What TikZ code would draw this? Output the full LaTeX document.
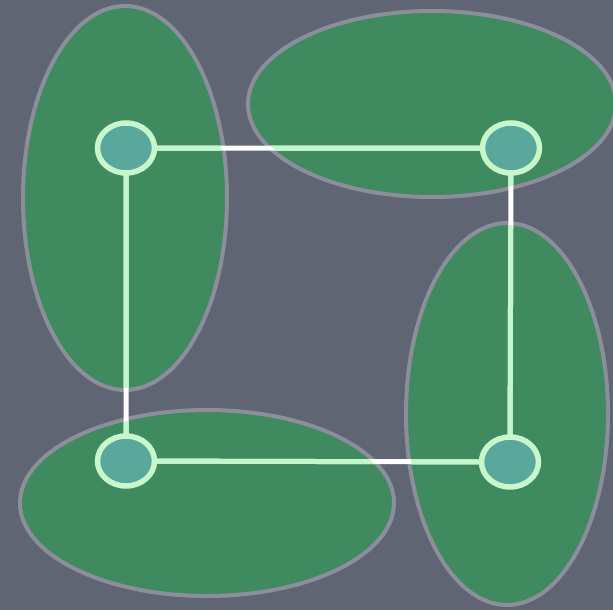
\documentclass[tikz,border=0pt]{standalone}
\usetikzlibrary{shapes.geometric}
\begin{document}
\begin{tikzpicture}[x=1pt,y=-1pt,
  blob/.style={fill=blobc,draw=blobedge,line width=4pt},
  vert/.style={shape=ellipse,fill=vfill,draw=vedge,line width=5.5pt,minimum width=57pt,minimum height=50pt,inner sep=0pt},
  link/.style={line width=5pt}]
\definecolor{bgc}{HTML}{5F6573}
\definecolor{blobc}{HTML}{3F8A5E}
\definecolor{blobedge}{HTML}{8C8E9B}
\definecolor{vfill}{HTML}{5AA79C}
\definecolor{vedge}{HTML}{C8F7CC}
\definecolor{linkc}{HTML}{C5F5CC}
\fill[bgc] (0,0) rectangle (613,610);
\useasboundingbox (0,0) rectangle (613,610);
% ellipses
\path[blob] (125,198) ellipse [x radius=102, y radius=192];
\path[blob] (432,104) ellipse [x radius=184, y radius=93];
\path[blob] (507,414) ellipse [x radius=101, y radius=191];
\path[blob] (207,503) ellipse [x radius=187, y radius=93];
% vertex positions
\coordinate (pa) at (126,148);
\coordinate (pb) at (511,148);
\coordinate (pc) at (126,461);
\coordinate (pd) at (510,462);
% links: white over background
\draw[link,white] (pa) -- (pb) -- (pd) -- (pc) -- cycle;
% links: mint where over the green shapes
\begin{scope}
  \clip (125,198) ellipse [x radius=100, y radius=190];
  \draw[link,linkc] (pa) -- (pb) -- (pd) -- (pc) -- cycle;
\end{scope}
\begin{scope}
  \clip (432,104) ellipse [x radius=182, y radius=91];
  \draw[link,linkc] (pa) -- (pb) -- (pd) -- (pc) -- cycle;
\end{scope}
\begin{scope}
  \clip (507,414) ellipse [x radius=99, y radius=189];
  \draw[link,linkc] (pa) -- (pb) -- (pd) -- (pc) -- cycle;
\end{scope}
\begin{scope}
  \clip (207,503) ellipse [x radius=185, y radius=91];
  \draw[link,linkc] (pa) -- (pb) -- (pd) -- (pc) -- cycle;
\end{scope}
\node[vert] (a) at (pa) {};
\node[vert] (b) at (pb) {};
\node[vert] (c) at (pc) {};
\node[vert] (d) at (pd) {};
\end{tikzpicture}
\end{document}
